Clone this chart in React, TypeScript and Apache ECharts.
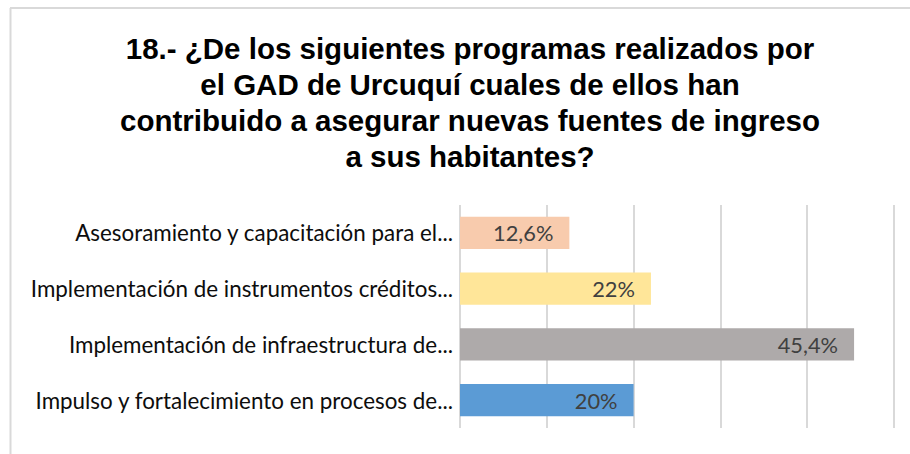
import React, { useEffect, useRef } from "react";
import * as echarts from "echarts";

const titleLines = [
  "18.- ¿De los siguientes programas realizados por",
  "el GAD de Urcuquí cuales de ellos han",
  "contribuido a asegurar nuevas fuentes de ingreso",
  "a sus habitantes?",
];
const categories = [
  "Asesoramiento y capacitación para el...",
  "Implementación de instrumentos créditos...",
  "Implementación de infraestructura de...",
  "Impulso y fortalecimiento en procesos de...",
];
const values = [12.6, 22, 45.4, 20];
const valueLabels = ["12,6%", "22%", "45,4%", "20%"];
const colors = ["#F8CBAD", "#FFE699", "#AEAAAA", "#5B9BD5"];

export default function App() {
  const ref = useRef<HTMLDivElement>(null);
  useEffect(() => {
    if (!ref.current) return;
    const chart = echarts.init(ref.current, null, { renderer: "svg" });
    chart.setOption({
      animation: false,
      backgroundColor: "#ffffff",
      title: {
        text: titleLines.join("\n"),
        left: 465,
        top: 25,
        textAlign: "center",
        textStyle: {
          fontFamily: "Liberation Sans",
          fontWeight: "bold",
          fontSize: 29.5,
          lineHeight: 36,
          color: "#000000",
        },
      },
      graphic: [
        { type: "line", shape: { x1: 10, y1: 8, x2: 910, y2: 8 }, style: { stroke: "#d9d9d9", lineWidth: 2 } },
        { type: "line", shape: { x1: 10.5, y1: 8, x2: 10.5, y2: 454 }, style: { stroke: "#d9d9d9", lineWidth: 2 } },
      ],
      grid: { left: 460, right: 16, top: 205, bottom: 26 },
      xAxis: {
        type: "value",
        min: 0,
        max: 50,
        interval: 10,
        axisLabel: { show: false },
        axisLine: { show: false },
        axisTick: { show: false },
        splitLine: { lineStyle: { color: "#d9d9d9", width: 2 } },
      },
      yAxis: {
        type: "category",
        data: categories,
        inverse: true,
        axisLine: { show: false },
        axisTick: { show: false },
        axisLabel: {
          margin: 7,
          fontFamily: "Lato",
          fontSize: 22.4,
          color: "#0d0d0d",
        },
      },
      series: [
        {
          type: "bar",
          barCategoryGap: "42%",
          data: values.map((v, i) => ({ value: v, itemStyle: { color: colors[i] } })),
          label: {
            show: true,
            position: "insideRight",
            distance: 16,
            formatter: (p: any) => valueLabels[p.dataIndex],
            fontFamily: "Lato",
            fontSize: 21.8,
            color: "#404040",
          },
        },
      ],
    });
    return () => chart.dispose();
  }, []);
  return (
    <div
      ref={ref}
      style={{ position: "fixed", left: 0, top: 0, width: 910, height: 454 }}
    />
  );
}
